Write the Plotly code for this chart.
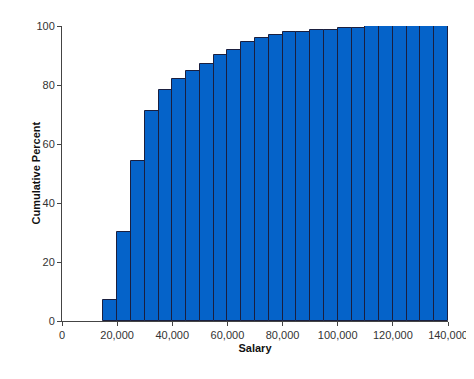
import plotly.graph_objects as go

bin_starts = [15000, 20000, 25000, 30000, 35000, 40000, 45000, 50000, 55000, 60000,
              65000, 70000, 75000, 80000, 85000, 90000, 95000, 100000, 105000, 110000,
              115000, 120000, 125000, 130000, 135000]
cum_percent = [7.0, 30.1, 54.4, 71.2, 78.2, 82.2, 84.9, 87.2, 90.1, 91.9,
               94.6, 96.0, 97.1, 97.9, 97.9, 98.8, 98.8, 99.4, 99.4, 99.9,
               99.9, 99.9, 99.9, 99.9, 99.9]
bin_width = 5000
x_ticks = [0, 20000, 40000, 60000, 80000, 100000, 120000, 140000]
x_tick_labels = ["0", "20,000", "40,000", "60,000", "80,000", "100,000", "120,000", "140,000"]
y_ticks = [0, 20, 40, 60, 80, 100]

fig = go.Figure(go.Bar(
    x=[s + bin_width / 2 for s in bin_starts],
    y=cum_percent,
    width=bin_width,
    marker=dict(color="#0563C9", line=dict(color="#1a1f3f", width=1)),
))

font = "Liberation Sans, Arial, sans-serif"
# page body has an 8px default margin; figure sized to fit the 474x379 window
fig.update_layout(
    width=466, height=371,
    margin=dict(l=54, r=26, t=18, b=58, autoexpand=False),
    paper_bgcolor="white", plot_bgcolor="white",
    showlegend=False,
    bargap=0,
    font=dict(family=font, size=11, color="#222"),
    xaxis=dict(
        range=[0, 140000], tickvals=x_ticks, ticktext=x_tick_labels,
        showline=True, linecolor="#444", linewidth=1,
        ticks="outside", ticklen=4, tickcolor="#444",
        showgrid=False, zeroline=False, automargin=False,
        title=dict(text="<b>Salary</b>", font=dict(size=11, color="#111"), standoff=4),
        tickfont=dict(size=11, color="#333"),
    ),
    yaxis=dict(
        range=[0, 100], tickvals=y_ticks,
        showline=True, linecolor="#444", linewidth=1,
        ticks="outside", ticklen=4, tickcolor="#444",
        showgrid=False, zeroline=False, automargin=False,
        tickfont=dict(size=11, color="#333"),
    ),
    annotations=[dict(
        text="<b>Cumulative Percent</b>", xref="paper", yref="paper",
        x=0, y=0.5, xanchor="center", yanchor="middle", xshift=-27,
        textangle=-90, showarrow=False, font=dict(size=11, color="#111"),
    )],
)

fig.write_html("out.html")
